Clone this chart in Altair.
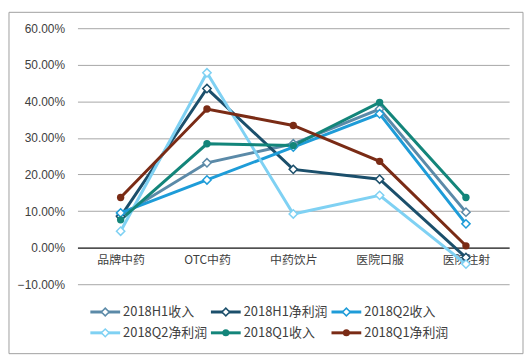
import altair as alt
import pandas as pd

categories = ["品牌中药", "OTC中药", "中药饮片", "医院口服", "医院注射"]
series_names = ["2018H1收入", "2018H1净利润", "2018Q2收入", "2018Q2净利润", "2018Q1收入", "2018Q1净利润"]
h1_rev = [8.8, 23.2, 28.4, 37.9, 9.7]
h1_np = [8.5, 43.5, 21.4, 18.7, -2.7]
q2_rev = [9.5, 18.5, 27.5, 36.6, 6.5]
q2_np = [4.5, 47.8, 9.2, 14.3, -4.5]
q1_rev = [7.6, 28.4, 27.9, 39.7, 13.7]
q1_np = [13.7, 37.9, 33.4, 23.6, 0.5]
colors = ["#5b8aa8", "#1b4f6b", "#1e9cd8", "#7fd1f3", "#13857a", "#7a2b15"]
markers = ["diamond", "diamond", "diamond", "diamond", "circle", "circle"]
y_ticks = [-0.1, 0.0, 0.1, 0.2, 0.3, 0.4, 0.5, 0.6]

values = [h1_rev, h1_np, q2_rev, q2_np, q1_rev, q1_np]
rows = []
for name, mk, vals in zip(series_names, markers, values):
    for c, v in zip(categories, vals):
        rows.append({"series": name, "cat": c, "value": v / 100.0, "marker": mk})
df = pd.DataFrame(rows)

leg = pd.DataFrame({
    "series": series_names,
    "col": [i % 3 for i in range(len(series_names))],
    "row": [i // 3 for i in range(len(series_names))],
    "marker": markers,
})

W, H = 435, 258
FONT_CJK = "Noto Sans CJK SC"

color_scale = alt.Scale(domain=series_names, range=colors)
color = alt.Color("series:N", scale=color_scale, legend=None)
stroke = alt.Stroke("series:N", scale=color_scale, legend=None)

x = alt.X("cat:N", sort=categories,
          scale=alt.Scale(type="point", padding=0.5),
          axis=alt.Axis(title=None, labelAngle=0, ticks=False, domainColor="black",
                        domainWidth=1, offset=-H * 10 / 70, labelPadding=7,
                        labelFont=FONT_CJK, labelFontSize=12, labelColor="#404040",
                        grid=False))
y = alt.Y("value:Q", scale=alt.Scale(domain=[-0.1, 0.6], nice=False, zero=False),
          axis=alt.Axis(title=None, format=".2%", values=y_ticks, grid=True,
                        gridColor="#a6a6a6", domain=False, ticks=False, labelPadding=13,
                        labelFont="Liberation Sans", labelFontSize=12, labelColor="#404040"))

base = alt.Chart(df)
lines = base.mark_line(strokeWidth=3).encode(x=x, y=y, color=color)
diamonds = base.transform_filter("datum.marker == 'diamond'").mark_point(
    shape="diamond", filled=True, fill="white", size=70, strokeWidth=1.5, opacity=1
).encode(x=x, y=y, stroke=stroke)
circles = base.transform_filter("datum.marker == 'circle'").mark_circle(
    size=55, opacity=1
).encode(x=x, y=y, color=color)
main = alt.layer(lines, diamonds, circles)

lx = alt.X("col:Q", scale=alt.Scale(domain=[0, 2], range=[13, 256]), axis=None)
ly = alt.Y("row:Q", scale=alt.Scale(domain=[0, 1], range=[286, 307]), axis=None)
lbase = alt.Chart(leg)
lrule = lbase.mark_rule(strokeWidth=3, x2Offset=30).encode(x=lx, x2="col:Q", y=ly, color=color)
ldiam = lbase.transform_filter("datum.marker == 'diamond'").mark_point(
    shape="diamond", filled=True, fill="white", size=60, strokeWidth=1.5, opacity=1, xOffset=15
).encode(x=lx, y=ly, stroke=stroke)
lcirc = lbase.transform_filter("datum.marker == 'circle'").mark_circle(
    size=50, opacity=1, xOffset=15
).encode(x=lx, y=ly, color=color)
ltext = lbase.mark_text(align="left", baseline="middle", dx=33, font=FONT_CJK,
                        fontSize=13, color="#404040").encode(x=lx, y=ly, text="series:N")
legend = alt.layer(lrule, ldiam, lcirc, ltext)

frame = alt.Chart(pd.DataFrame({"a": [0]})).mark_rect(
    fillOpacity=0, stroke="#a0a0a0", strokeWidth=1
).encode(x=alt.value(-69), x2=alt.value(449), y=alt.value(-16), y2=alt.value(328))

chart = alt.layer(main, legend, frame).resolve_scale(
    x="independent", y="independent"
).properties(
    width=W, height=H,
    padding={"left": 0, "top": 2, "right": 0, "bottom": 0},
    background="white",
).configure_view(stroke=None)

chart.save("out.html", embed_options={"renderer": "svg", "actions": False})
